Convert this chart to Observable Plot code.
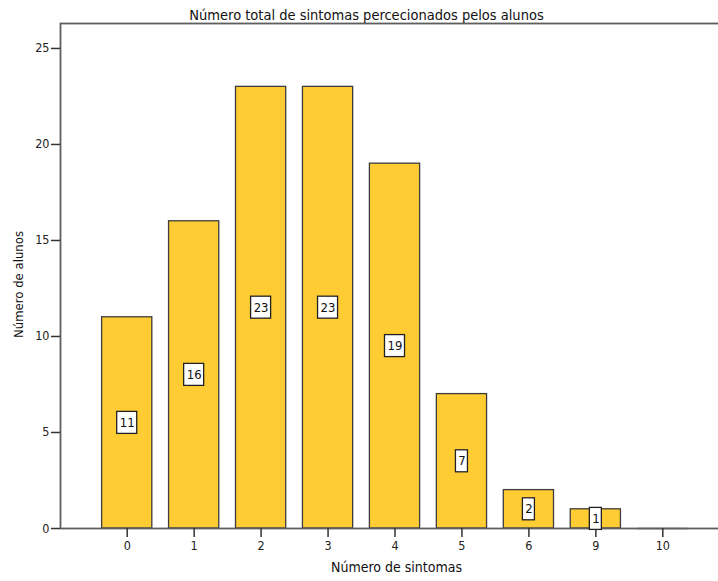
<!DOCTYPE html>
<html>
<head>
<meta charset="utf-8">
<script src="https://cdn.jsdelivr.net/npm/d3@7"></script>
<script src="https://cdn.jsdelivr.net/npm/@observablehq/plot@0.6"></script>
<style>
  html, body { margin: 0; padding: 0; background: #fff; }
  svg { display: block; }
</style>
</head>
<body>
<div id="chart"></div>
<script>
const titulo = "Número total de sintomas percecionados pelos alunos";
const eixoX = "Número de sintomas";
const eixoY = "Número de alunos";
const sintomas = ["0", "1", "2", "3", "4", "5", "6", "9", "10"];
const alunos = [11, 16, 23, 23, 19, 7, 2, 1, 0];
const yTicks = [0, 5, 10, 15, 20, 25];

const data = sintomas.map((s, i) => ({s, v: alunos[i]}));
const labeled = data.filter(d => d.v > 0);
const twoDigit = labeled.filter(d => String(d.v).length > 1);
const oneDigit = labeled.filter(d => String(d.v).length === 1);
const zeros = data.filter(d => d.v === 0);

const FONT = "'DejaVu Sans Condensed', 'Liberation Sans Narrow', 'DejaVu Sans', sans-serif";
const axisColor = "#5e5e5e";

const chart = Plot.plot({
  width: 718,
  height: 581,
  marginTop: 23,
  marginBottom: 53,
  marginLeft: 60,
  marginRight: 0,
  style: {fontFamily: FONT, fontSize: "12px", color: "#222", background: "#fff"},
  x: {domain: sintomas, range: [101.6, 687.4], paddingInner: 0.25, paddingOuter: 0, round: false, label: null},
  y: {domain: [0, 26.3], label: null},
  marks: [
    Plot.barY(data, {x: "s", y: "v", fill: "#FFCC33", stroke: "#3c3c3c", strokeWidth: 1.3}),
    Plot.tickY(zeros, {x: "s", y: "v", stroke: "#b0b0b0", strokeWidth: 2}),
    Plot.frame({stroke: axisColor, strokeWidth: 1.8, insetRight: -10}),
    Plot.axisY({ticks: yTicks, tickSize: 9, tickPadding: 2, stroke: "#333", strokeWidth: 1.5, fontSize: 12.5, fill: "#222", label: null}),
    Plot.axisX({tickSize: 9, tickPadding: 4, stroke: "#333", strokeWidth: 1.5, fontSize: 12.5, fill: "#222", label: null}),
    Plot.barY(twoDigit, {x: "s", y1: d => d.v / 2, y2: d => d.v / 2, insetTop: -11, insetBottom: -11, insetLeft: 15.1, insetRight: 15.1, fill: "#fff", stroke: "#222", strokeWidth: 1.3}),
    Plot.barY(oneDigit, {x: "s", y1: d => d.v / 2, y2: d => d.v / 2, insetTop: -11, insetBottom: -11, insetLeft: 19.1, insetRight: 19.1, fill: "#fff", stroke: "#222", strokeWidth: 1.3}),
    Plot.text(labeled, {x: "s", y: d => d.v / 2, text: d => String(d.v), fontSize: 13, fill: "#111"}),
    Plot.text([titulo], {frameAnchor: "top", dx: -23, dy: -14, fontSize: 14.5, fill: "#111"}),
    Plot.text([eixoX], {frameAnchor: "bottom", dx: 7, dy: 43, fontSize: 14, fill: "#111"}),
    Plot.text([eixoY], {frameAnchor: "left", rotate: -90, dx: -42, dy: 62, fontSize: 13, fill: "#111"})
  ]
});
document.getElementById("chart").appendChild(chart);
</script>
</body>
</html>
